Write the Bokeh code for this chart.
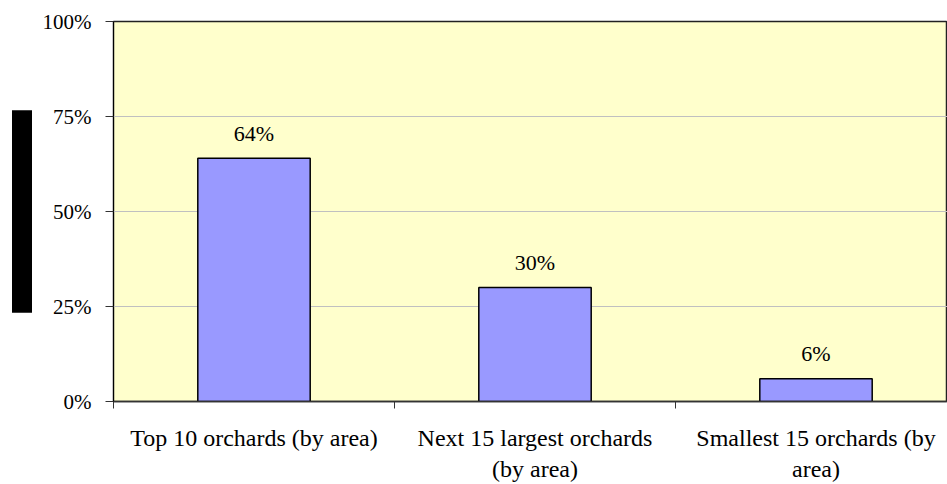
from bokeh.plotting import figure
from bokeh.models import (Range1d, FixedTicker, NumeralTickFormatter, ColumnDataSource,
                          LabelSet, Title)
from bokeh.core.properties import value
from bokeh.embed import file_html
from bokeh.resources import INLINE

categories = ["Top 10 orchards (by area)", "Next 15 largest orchards\n(by area)",
              "Smallest 15 orchards (by\narea)"]
shares = [0.64, 0.30, 0.06]
share_labels = ["64%", "30%", "6%"]
y_ticks = [0, 0.25, 0.5, 0.75, 1.0]

FONT = "Liberation Serif"
W, H = 947, 484
BL, BT, BB = 113, 21, 83
cat_px = 281.0

xpos = [i + 0.5 for i in range(len(categories))]
src = ColumnDataSource(dict(x=xpos, top=shares, lab=share_labels))

p = figure(width=W, height=H, output_backend="svg", toolbar_location=None,
           x_range=Range1d(0, (W - BL) / cat_px), y_range=Range1d(0, 1),
           min_border_left=BL, min_border_right=0, min_border_top=BT, min_border_bottom=BB)
p.background_fill_color = "#FFFFCC"
p.border_fill_color = "white"
p.outline_line_color = "#222222"
p.outline_line_width = 1.5

p.vbar(x="x", top="top", width=0.40, bottom=0, source=src,
       fill_color="#9999FF", line_color="black", line_width=1.5)

p.add_layout(LabelSet(x="x", y="top", text="lab", source=src, text_align="center",
                      text_baseline="middle", y_offset=25, text_font=value(FONT),
                      text_font_size="22px", text_color="black"))

# y axis
p.yaxis.ticker = FixedTicker(ticks=y_ticks)
p.yaxis.formatter = NumeralTickFormatter(format="0%")
p.yaxis.major_label_text_font = FONT
p.yaxis.major_label_text_font_size = "21px"
p.yaxis.major_label_text_color = "black"
p.yaxis.major_tick_out = 8
p.yaxis.major_tick_in = 0
p.yaxis.minor_tick_line_color = None
p.yaxis.axis_line_color = "black"
p.yaxis.major_tick_line_color = "#333333"
p.yaxis.major_label_standoff = 14

# x axis: labels at category centres, tick marks at boundaries
p.xaxis.ticker = FixedTicker(ticks=xpos, minor_ticks=[0, 1, 2, 3])
p.xaxis.major_label_overrides = {x: c for x, c in zip(xpos, categories)}
p.xaxis.major_label_text_font = FONT
p.xaxis.major_label_text_font_size = "24px"
p.xaxis.major_label_text_color = "black"
p.xaxis.major_tick_line_color = None
p.xaxis.major_tick_out = 0
p.xaxis.major_tick_in = 0
p.xaxis.minor_tick_out = 7
p.xaxis.minor_tick_in = 0
p.xaxis.minor_tick_line_color = "#333333"
p.xaxis.axis_line_color = "#333333"
p.xaxis.axis_line_width = 1.5
p.xaxis.major_label_standoff = 16

p.xgrid.grid_line_color = None
p.ygrid.ticker = FixedTicker(ticks=[0.25, 0.5, 0.75])
p.ygrid.grid_line_color = "#C0C0C0"

# black block at left (black-filled axis-title box)
p.add_layout(Title(text="\u00a0" * 45, align="center", text_font=FONT,
                   text_font_size="18px", text_color="black",
                   background_fill_color="black", padding=0,
                   standoff=15), "left")

open("out.html", "w").write(file_html(p, INLINE))
